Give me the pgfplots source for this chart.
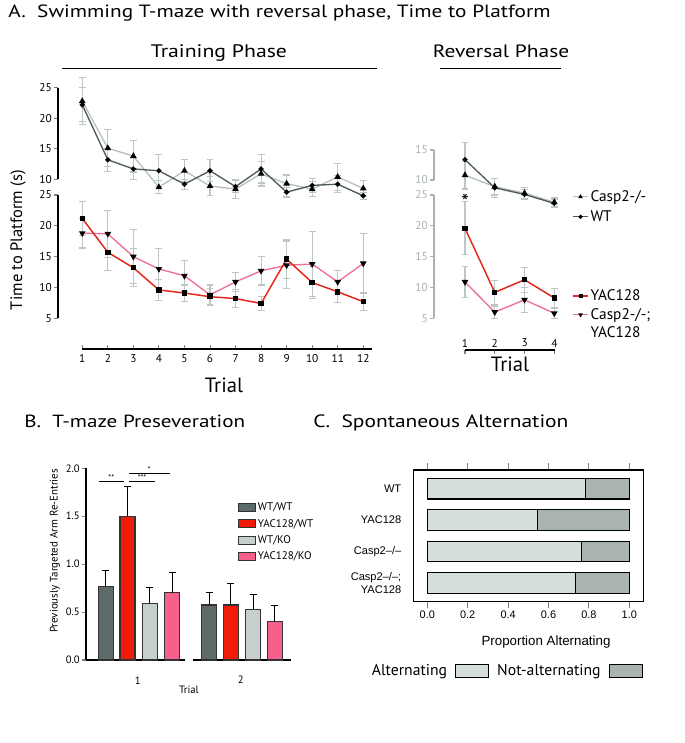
\documentclass[border=0pt]{standalone}
\usepackage{fontspec}
\setmainfont{PT Sans}
\newfontfamily\wide{PT Sans}[FakeStretch=1.2]
\newfontfamily\arial{Liberation Sans}
\usepackage{pgfplots}
\pgfplotsset{compat=1.18}
\usepackage{pgfplotstable}

\definecolor{wtline}{HTML}{4F5A5A}
\definecolor{caline}{HTML}{B7C0C0}
\definecolor{yacline}{HTML}{E3261B}
\definecolor{cyline}{HTML}{EE6F8F}
\definecolor{errc}{HTML}{BCC6C6}
\definecolor{revgray}{HTML}{A9B1B1}
\definecolor{bWT}{HTML}{5E6B6B}
\definecolor{bYW}{HTML}{F21B0A}
\definecolor{bWK}{HTML}{C7CFCD}
\definecolor{bYK}{HTML}{F5618A}
\definecolor{cAlt}{HTML}{D6DEDD}
\definecolor{cNot}{HTML}{A9B4B2}

\pgfplotstableread{
t wt wte ca cae
1 22.2 2.8 22.8 3.9
2 13.2 1.9 15.1 3.0
3 11.7 1.8 13.8 2.6
4 11.4 2.6 8.7 1.1
5 9.2 0.8 11.4 1.8
6 11.4 1.8 8.9 1.6
7 8.8 1.0 8.4 1.6
8 11.7 2.3 10.9 2.0
9 7.9 0.8 9.3 1.4
10 9.0 1.2 8.4 1.2
11 9.2 1.4 10.4 2.2
12 7.3 0.6 8.5 1.3
}\trainU

\pgfplotstableread{
t yac yace cy cye
1 21.2 2.8 18.8 2.4
2 15.7 3.0 18.7 3.8
3 13.2 3.1 15.0 4.4
4 9.6 1.7 13.0 3.3
5 9.1 1.3 11.9 2.5
6 8.5 1.4 8.8 1.6
7 8.2 1.4 10.9 1.5
8 7.4 1.1 12.7 2.3
9 14.6 3.1 13.6 3.8
10 10.8 2.6 13.8 5.3
11 9.3 1.7 10.9 1.9
12 7.7 1.5 13.9 4.8
}\trainL

\pgfplotstableread{
t wt wte ca cae
1 13.4 2.8 10.8 2.3
2 8.7 1.6 8.9 1.4
3 7.6 0.8 7.8 0.9
4 6.1 0.7 6.3 0.7
}\revU

\pgfplotstableread{
t yac yace cy cye
1 19.6 4.3 10.9 2.5
2 9.2 2.0 6.0 1.0
3 11.25 2.0 8.0 2.0
4 8.3 1.5 5.8 0.8
}\revL

\pgfplotsset{
  /pgf/number format/assume math mode=true,
  apanel/.style={scale only axis, clip=false, anchor=south west,
    axis y line=left, hide x axis,
    axis line style={-, line width=0.8pt},
    tick align=outside, major tick length=3pt,
    ytick style={line width=0.8pt},
    yticklabel style={font=\fontsize{8.5}{9}\selectfont, inner sep=1.5pt}},
  errplot/.style={draw=none, mark=none, forget plot,
    error bars/y dir=both, error bars/y explicit,
    error bars/error mark options={rotate=90, errc, line width=0.8pt, mark size=2.6pt},
    error bars/error bar style={errc, line width=0.8pt}},
  wtst/.style={wtline, line width=1pt, mark=*, mark size=1.4pt, mark options={black, fill=black}},
  cast/.style={caline, line width=1pt, mark=triangle*, mark size=1.9pt, mark options={black, fill=black}},
  yacst/.style={yacline, line width=1.1pt, mark=square*, mark size=1.5pt, mark options={black, fill=black}},
  cyst/.style={cyline, line width=1pt, mark=triangle*, mark size=1.9pt, mark options={black, fill=black, rotate=180}},
  linelegend/.style={legend image code/.code={\draw[##1, mark size=1pt, mark repeat=2, mark phase=2] plot coordinates {(0pt,0pt) (5.5pt,0pt) (11pt,0pt)};}},
  cbox/.style={legend image code/.code={\draw[##1] (0pt,-4.9pt) rectangle (24.75pt,4.9pt);}},
  bstyle/.style={ybar, bar width=11.25pt, bar shift=0pt, draw=black!80, line width=0.8pt,
    legend image code/.code={\draw[##1] (0pt,-3pt) rectangle (12.5pt,3pt);},
    error bars/y dir=plus, error bars/y explicit,
    error bars/error bar style={black, line width=0.8pt},
    error bars/error mark options={rotate=90, black, mark size=2.5pt, line width=0.8pt}},
}

\begin{document}
\begin{tikzpicture}
\begin{scope}[x=0.75pt,y=-0.75pt]
\path[use as bounding box] (0,0) rectangle (685,743);
% ---------- titles
\node[anchor=base west, inner sep=0pt, font=\wide\fontsize{13.3}{15}\selectfont] at (8,17.5) {A.\ \ Swimming T-maze with reversal phase, Time to Platform};
\node[anchor=base, inner sep=0pt, font=\wide\fontsize{13.6}{16}\selectfont] at (219,57) {Training Phase};
\draw[line width=0.9pt] (62,68.3) -- (377,68.3);
\node[anchor=base, inner sep=0pt, font=\wide\fontsize{13.4}{16}\selectfont] at (501,57) {Reversal Phase};
\draw[line width=0.9pt] (440,68.3) -- (561,68.3);
\node[rotate=90, inner sep=0pt, font=\fontsize{12.4}{14}\selectfont] at (18,240) {Time to Platform (s)};
\node[font=\fontsize{15.5}{18}\selectfont, inner sep=0pt] at (224,385) {Trial};
\node[font=\fontsize{16}{18}\selectfont, inner sep=0pt] at (465,202) {*};
\node[font=\fontsize{15.5}{18}\selectfont, inner sep=0pt] at (510,364) {Trial};
\node[anchor=base west, inner sep=0pt, font=\wide\fontsize{13.2}{15}\selectfont] at (24,427) {B.\ \ T-maze Preseveration};
\node[rotate=90, inner sep=0pt, font=\fontsize{8.2}{10}\selectfont] at (55,551) {Previously Targeted Arm Re-Entries};
\node[font=\fontsize{8}{9}\selectfont, inner sep=0pt] at (189,690) {Trial};
\node[anchor=base west, inner sep=0pt, font=\wide\fontsize{13.4}{15}\selectfont] at (313,427) {C.\ \ Spontaneous Alternation};
\node[font=\arial\fontsize{10}{12}\selectfont, inner sep=0pt] at (546,642) {Proportion Alternating};
\end{scope}

% ---------- A: training upper
\begin{axis}[apanel, at={({58*0.75pt},{-179.3*0.75pt})}, width=236.6pt, height=68.7pt,
  xmin=0.05, xmax=12.4, ymin=10, ymax=25, ytick={10,15,20,25}]
\addplot[errplot] table[x=t,y=ca,y error=cae]{\trainU};
\addplot[errplot] table[x=t,y=wt,y error=wte]{\trainU};
\addplot[cast] table[x=t,y=ca]{\trainU};
\addplot[wtst] table[x=t,y=wt]{\trainU};
\end{axis}

% ---------- A: training lower
\begin{axis}[apanel, at={({58*0.75pt},{-318.3*0.75pt})}, width=236.6pt, height=92.5pt,
  xmin=0.05, xmax=12.4, ymin=5, ymax=25, ytick={5,10,15,20,25}]
\addplot[errplot] table[x=t,y=cy,y error=cye]{\trainL};
\addplot[errplot] table[x=t,y=yac,y error=yace]{\trainL};
\addplot[cyst] table[x=t,y=cy]{\trainL};
\addplot[yacst] table[x=t,y=yac]{\trainL};
\end{axis}

% ---------- A: training x axis
\begin{axis}[scale only axis, anchor=south west, at={({82.3*0.75pt},{-349*0.75pt})}, width=217.3pt, height=1pt,
  xmin=1, xmax=12.34, ymin=0, ymax=1, axis x line=bottom, axis y line=none,
  axis line style={-, line width=0.8pt}, tick align=inside, major tick length=3pt,
  xtick={1,...,12}, xtick style={line width=0.8pt},
  xticklabel style={font=\fontsize{8.5}{9}\selectfont, inner sep=2pt, yshift=-2pt}]
\end{axis}

% ---------- A: reversal upper
\begin{axis}[apanel, at={({434*0.75pt},{-180*0.75pt})}, width=96.9pt, height=22.5pt,
  xmin=-0.041, xmax=4.3, ymin=10, ymax=15, ytick={10,15},
  axis line style={-, line width=0.8pt, revgray}, ytick style={revgray, line width=0.8pt},
  yticklabel style={font=\fontsize{8.5}{9}\selectfont, inner sep=1.5pt, revgray},
  legend style={at={(axis description cs:1.07,-0.25)}, anchor=north west, draw=none, fill=none,
    inner sep=0pt, row sep=1.5pt, font=\fontsize{11.5}{13}\selectfont,
    nodes={inner sep=1.5pt, text height=8.5pt, text depth=2pt}},
  legend cell align=left]
\addplot[errplot] table[x=t,y=ca,y error=cae]{\revU};
\addplot[errplot] table[x=t,y=wt,y error=wte]{\revU};
\addplot[cast, linelegend] table[x=t,y=ca]{\revU};
\addlegendentry{Casp2-/-}
\addplot[wtst, linelegend] table[x=t,y=wt]{\revU};
\addlegendentry{WT}
\end{axis}

% ---------- A: reversal lower
\begin{axis}[apanel, at={({434*0.75pt},{-318.3*0.75pt})}, width=96.9pt, height=92.5pt,
  xmin=-0.041, xmax=4.3, ymin=5, ymax=25, ytick={5,10,15,20,25},
  axis line style={-, line width=0.8pt, revgray}, ytick style={revgray, line width=0.8pt},
  yticklabel style={font=\fontsize{8.5}{9}\selectfont, inner sep=1.5pt, revgray},
  legend style={at={(axis description cs:1.07,0.255)}, anchor=north west, draw=none, fill=none,
    inner sep=0pt, row sep=0.5pt, font=\fontsize{11.5}{13}\selectfont,
    nodes={inner sep=1.5pt, text height=8.5pt, text depth=2pt}},
  legend cell align=left]
\addplot[errplot] table[x=t,y=cy,y error=cye]{\revL};
\addplot[errplot] table[x=t,y=yac,y error=yace]{\revL};
\addplot[yacst, linelegend] table[x=t,y=yac]{\revL};
\addlegendentry{YAC128}
\addplot[cyst, linelegend] table[x=t,y=cy]{\revL};
\addlegendentry{Casp2-/-;}
\addlegendimage{empty legend}
\addlegendentry{YAC128}
\end{axis}

% ---------- A: reversal x axis
\begin{axis}[scale only axis, anchor=north west, at={({465*0.75pt},{-350*0.75pt})}, width=67.5pt, height=1pt,
  xmin=1, xmax=4.02, ymin=0, ymax=1, axis x line=top, axis y line=none,
  axis line style={-, line width=0.8pt}, tick align=inside, major tick length=3pt,
  xtick={1,...,4}, xtick style={line width=0.8pt},
  xticklabel style={font=\fontsize{8.5}{9}\selectfont, inner sep=2pt}]
\end{axis}

% ---------- B
\begin{axis}[scale only axis, anchor=south west, at={({86*0.75pt},{-660*0.75pt})}, width=74.25pt, height=143.8pt,
  xmin=0, xmax=99, ymin=0, ymax=2, clip=false,
  axis x line=bottom, axis y line=left, axis line style={-, line width=0.8pt},
  tick align=outside, major tick length=3pt, ytick={0,0.5,1,1.5,2},
  ytick style={line width=0.8pt},
  yticklabel style={font=\fontsize{8}{9}\selectfont, inner sep=1.5pt,
    /pgf/number format/.cd, fixed, fixed zerofill, precision=1},
  xtick={51.7}, xticklabels={1}, xtick style={draw=none},
  xticklabel style={font=\fontsize{8}{9}\selectfont, yshift=-6pt},
  legend style={at={(axis description cs:1.535,0.836)}, anchor=north west, draw=none, fill=none,
    inner sep=0pt, row sep=1.3pt, font=\fontsize{8.3}{10}\selectfont,
    nodes={inner sep=1.5pt, text height=6.5pt, text depth=1.5pt}},
  legend cell align=left]
\addplot[bstyle, fill=bWT] coordinates {(19.8,0.765) +- (0,0.165)};
\addlegendentry{WT/WT}
\addplot[bstyle, fill=bYW] coordinates {(41.5,1.50) +- (0,0.31)};
\addlegendentry{YAC128/WT}
\addplot[bstyle, fill=bWK] coordinates {(63.8,0.59) +- (0,0.17)};
\addlegendentry{WT/KO}
\addplot[bstyle, fill=bYK] coordinates {(86.2,0.70) +- (0,0.21)};
\addlegendentry{YAC128/KO}
\draw[line width=0.7pt] (axis cs:12.7,1.867) -- (axis cs:38,1.867);
\draw[line width=0.7pt] (axis cs:42.7,1.867) -- (axis cs:69.3,1.867);
\draw[line width=0.7pt] (axis cs:42.7,1.948) -- (axis cs:84,1.948);
\node[font=\fontsize{6}{7}\selectfont, inner sep=0.5pt, anchor=south] at (axis cs:25.3,1.867) {**};
\node[font=\fontsize{6}{7}\selectfont, inner sep=0.5pt, anchor=south] at (axis cs:56,1.867) {***};
\node[font=\fontsize{6}{7}\selectfont, inner sep=0.5pt, anchor=south] at (axis cs:63.3,1.948) {*};
\end{axis}

\begin{axis}[scale only axis, anchor=south west, at={({193.3*0.75pt},{-660*0.75pt})}, width=73.3pt, height=143.8pt,
  xmin=0, xmax=97.7, ymin=0, ymax=2, clip=false,
  axis x line=bottom, axis y line=none, axis line style={-, line width=0.8pt},
  xtick={47.4}, xticklabels={2}, xtick style={draw=none},
  xticklabel style={font=\fontsize{8}{9}\selectfont, yshift=-6pt}]
\addplot[bstyle, fill=bWT] coordinates {(15.9,0.574) +- (0,0.129)};
\addplot[bstyle, fill=bYW] coordinates {(37.5,0.574) +- (0,0.226)};
\addplot[bstyle, fill=bWK] coordinates {(59.9,0.529) +- (0,0.153)};
\addplot[bstyle, fill=bYK] coordinates {(81.5,0.40) +- (0,0.167)};
\end{axis}

% ---------- C
\begin{axis}[scale only axis, anchor=south west, at={({413.3*0.75pt},{-601.7*0.75pt})}, width=172.5pt, height=98.8pt,
  xmin=-0.0693, xmax=1.0693, ymin=0.405, ymax=4.595,
  xbar stacked, bar width=15.5pt,
  axis line style={line width=0.8pt},
  xtick={0,0.2,0.4,0.6,0.8,1.0}, xtick pos=both, xticklabel pos=lower,
  tick align=outside, major tick length=5pt, xtick style={line width=0.8pt},
  xticklabel style={font=\arial\fontsize{8.2}{9}\selectfont, inner sep=2pt,
    /pgf/number format/.cd, fixed, fixed zerofill, precision=1},
  ytick={1,2,3,4},
  yticklabels={{Casp2–/–;\\YAC128}, {Casp2–/–}, {YAC128}, {WT}},
  ytick style={draw=none},
  yticklabel style={font=\arial\fontsize{8.3}{10}\selectfont, align=right, xshift=-0.5pt},
  legend style={at={(axis description cs:-0.193,-0.526)}, anchor=west, draw=none, fill=none,
    inner sep=0pt, font=\fontsize{11.8}{13}\selectfont, column sep=4pt},
  legend columns=-1, legend plot pos=right]
\addplot[fill=cAlt, draw=black, line width=0.8pt, cbox]
  coordinates {(0.785,4) (0.545,3) (0.764,2) (0.733,1)};
\addlegendentry{Alternating}
\addplot[fill=cNot, draw=black, line width=0.8pt, cbox]
  coordinates {(0.215,4) (0.455,3) (0.236,2) (0.267,1)};
\addlegendentry{Not-alternating}
\end{axis}

\end{tikzpicture}
\end{document}
